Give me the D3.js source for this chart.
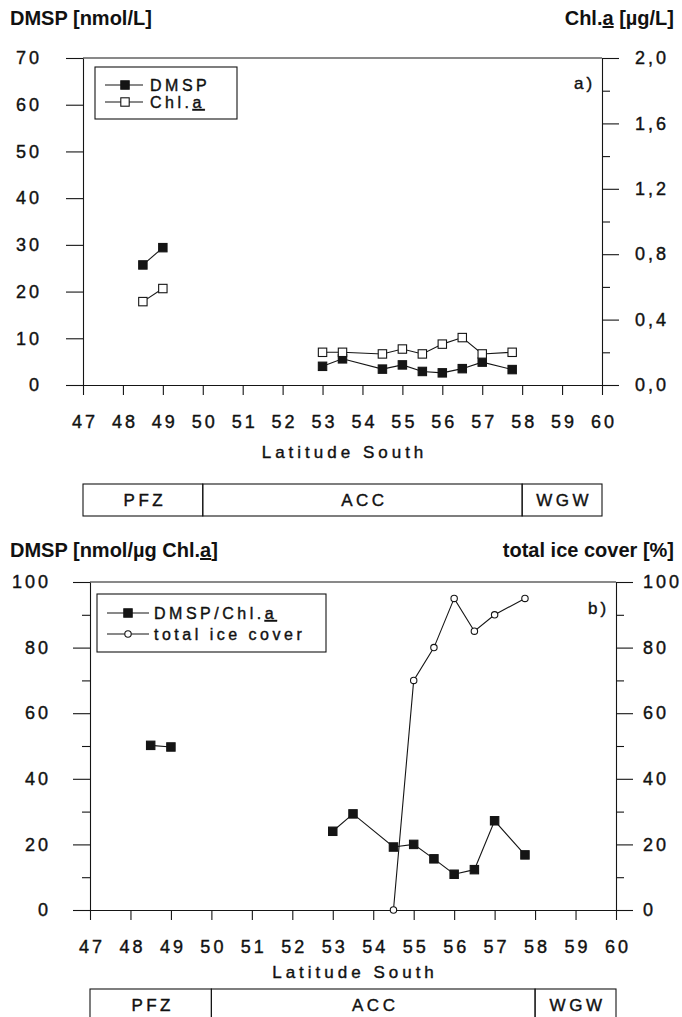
<!DOCTYPE html>
<html>
<head>
<meta charset="utf-8">
<script src="https://cdn.jsdelivr.net/npm/d3@7"></script>
<style>
    body { margin: 0; background: #fff; }
    svg text { font-family: "Liberation Sans", Arial, sans-serif; fill: #111; }
    svg .tx text, svg text.tx { stroke: #111; stroke-width: 0.4px; }
</style>
</head>
<body>
<div id="chart"></div>
<script>
// latitude axis + water mass zones
const latTicks = [47, 48, 49, 50, 51, 52, 53, 54, 55, 56, 57, 58, 59, 60]
const zoneNames = ['PFZ', 'ACC', 'WGW']
const zoneEdges = [47, 50, 58, 60]

// stations (leg 0 = north, leg 1 = south part of the transect)
const stationLat = [48.5, 49, 53, 53.5, 54.5, 55, 55.5, 56, 56.5, 57, 57.75]
const stationLeg = [0, 0, 1, 1, 1, 1, 1, 1, 1, 1, 1]

// panel a
const dmsp = [25.7, 29.4, 4.0, 5.6, 3.4, 4.3, 2.9, 2.6, 3.5, 4.9, 3.3]
const chla = [0.51, 0.59, 0.20, 0.20, 0.19, 0.22, 0.19, 0.25, 0.29, 0.19, 0.20]
const dmspTicks = [0, 10, 20, 30, 40, 50, 60, 70]
const chlTicks = [0, 0.4, 0.8, 1.2, 1.6, 2.0]
const chlMinor = [0.2, 0.6, 1.0, 1.4, 1.8]

// panel b
const dmspPerChl = [50.2, 49.7, 24.0, 29.3, 19.2, 20.0, 15.6, 10.9, 12.3, 27.2, 16.8]
const iceLat = [54.5, 55, 55.5, 56, 56.5, 57, 57.75]
const iceCover = [0, 70, 80, 95, 85, 90, 95]
const pctTicks = [0, 20, 40, 60, 80, 100]
const pctMinor = [10, 30, 50, 70, 90]

const w = 682
const h = 1017
const ink = '#151515'

const svg = d3.select('#chart')
    .append('svg')
    .attr('width', w)
    .attr('height', h)

function styleAxis(g, size, spacing) {
    g.attr('font-family', null).attr('font-size', null).attr('class', 'tx')
    g.selectAll('line').attr('stroke', ink).attr('stroke-width', 1.1)
    g.selectAll('path').attr('stroke', ink).attr('stroke-width', 1.1)
    g.selectAll('text')
        .style('font-size', size + 'px')
        .style('letter-spacing', spacing + 'px')
}

// text with an underlined "a" (Chl.a) when the second part is given
function textWithA(sel, parts) {
    sel.append('tspan').text(parts[0])
    if (parts[1] === null) return
    sel.append('tspan').attr('text-decoration', 'underline').text('a')
    sel.append('tspan').text(parts[1])
}

function drawPanel(p) {
    const g = svg.append('g')

    const x = d3.scaleLinear().domain([47, 60]).range([p.left, p.right])
    const yL = d3.scaleLinear().domain(p.leftDomain).range([p.bottom, p.top])
    const yR = d3.scaleLinear().domain(p.rightDomain).range([p.bottom, p.top])

    // titles
    const tl = g.append('text')
        .attr('x', 10).attr('y', p.titleY)
        .style('font-size', '20px').style('font-weight', 'bold')
    textWithA(tl, p.leftTitle)
    const tr = g.append('text')
        .attr('x', 674).attr('y', p.titleY)
        .attr('text-anchor', 'end')
        .style('font-size', '20px').style('font-weight', 'bold')
    textWithA(tr, p.rightTitle)

    // top frame line
    g.append('line')
        .attr('x1', p.left).attr('x2', p.right)
        .attr('y1', p.top).attr('y2', p.top)
        .attr('stroke', ink).attr('stroke-width', 1.1)

    // left axis
    g.append('g')
        .attr('transform', `translate(${p.left},0)`)
        .call(d3.axisLeft(yL).tickValues(p.leftTicks).tickSize(17).tickSizeOuter(0).tickPadding(p.leftPad))
        .call(a => styleAxis(a, 18, 3))
    if (p.leftMinor) {
        g.append('g')
            .attr('transform', `translate(${p.left},0)`)
            .call(d3.axisLeft(yL).tickValues(p.leftMinor).tickSize(8).tickFormat(''))
            .call(a => a.select('.domain').remove())
            .call(a => styleAxis(a, 18, 3))
    }

    // right axis
    g.append('g')
        .attr('transform', `translate(${p.right},0)`)
        .call(d3.axisRight(yR).tickValues(p.rightTicks).tickSize(17).tickSizeOuter(0)
            .tickPadding(p.rightPad).tickFormat(p.rightFormat))
        .call(a => styleAxis(a, 18, 3))
    g.append('g')
        .attr('transform', `translate(${p.right},0)`)
        .call(d3.axisRight(yR).tickValues(p.rightMinor).tickSize(8).tickFormat(''))
        .call(a => a.select('.domain').remove())
        .call(a => styleAxis(a, 18, 3))

    // latitude axis
    g.append('g')
        .attr('transform', `translate(0,${p.bottom})`)
        .call(d3.axisBottom(x).tickValues(latTicks).tickSize(10).tickSizeOuter(0).tickPadding(20))
        .call(a => styleAxis(a, 18, 3))
        .call(a => a.selectAll('text').attr('dx', 1.5))

    g.append('text')
        .attr('class', 'tx')
        .attr('x', (p.left + p.right) / 2 + 2).attr('y', p.latY)
        .attr('text-anchor', 'middle')
        .style('font-size', '17px').style('letter-spacing', '4px')
        .text('Latitude South')

    // zones
    const zones = g.append('g')
    zoneNames.forEach((z, i) => {
        zones.append('rect')
            .attr('x', x(zoneEdges[i])).attr('y', p.boxTop)
            .attr('width', x(zoneEdges[i + 1]) - x(zoneEdges[i])).attr('height', 32)
            .attr('fill', 'none').attr('stroke', ink).attr('stroke-width', 1.1)
        zones.append('text')
            .attr('class', 'tx')
            .attr('x', (x(zoneEdges[i]) + x(zoneEdges[i + 1])) / 2 + 2).attr('y', p.boxTop + 22)
            .attr('text-anchor', 'middle')
            .style('font-size', '17px').style('letter-spacing', '3.5px')
            .text(z)
    })

    // panel letter
    g.append('text')
        .attr('class', 'tx')
        .attr('x', p.letterX).attr('y', p.letterY)
        .style('font-size', '17px').style('letter-spacing', '3px')
        .text(p.letter)

    const line = d3.line().x(d => x(d[0])).y(d => d[1])

    // series
    p.series.forEach(s => {
        const pts = s.lat.map((la, i) => [la, s.y(s.values[i]), s.leg[i]])
        d3.groups(pts, d => d[2]).forEach(([, seg]) => {
            g.append('path')
                .attr('d', line(seg))
                .attr('fill', 'none').attr('stroke', ink).attr('stroke-width', 1.1)
        })
        drawMarkers(g.append('g'), pts.map(d => [x(d[0]), d[1]]), s.marker)
    })

    // legend
    const lg = g.append('g')
    lg.append('rect')
        .attr('x', p.legend.x).attr('y', p.legend.y)
        .attr('width', p.legend.w).attr('height', p.legend.h)
        .attr('fill', '#fff').attr('stroke', ink).attr('stroke-width', 1.1)
    p.series.forEach((s, i) => {
        const ly = p.legend.y + p.legend.row0 + i * p.legend.step
        lg.append('line')
            .attr('x1', p.legend.x + 10).attr('x2', p.legend.x + p.legend.lineW)
            .attr('y1', ly).attr('y2', ly)
            .attr('stroke', ink).attr('stroke-width', 1.1)
        drawMarkers(lg.append('g'), [[p.legend.x + p.legend.markX, ly]], s.marker)
        const t = lg.append('text')
            .attr('class', 'tx')
            .attr('x', p.legend.x + p.legend.textX).attr('y', ly + 6)
            .style('font-size', '16px').style('letter-spacing', '3.5px')
        textWithA(t, s.name)
    })
}

function drawMarkers(g, pts, type) {
    if (type === 'circle') {
        g.selectAll('circle').data(pts).enter().append('circle')
            .attr('cx', d => d[0]).attr('cy', d => d[1]).attr('r', 3.2)
            .attr('fill', '#fff').attr('stroke', ink).attr('stroke-width', 1.1)
    } else {
        g.selectAll('rect').data(pts).enter().append('rect')
            .attr('x', d => d[0] - 4.2).attr('y', d => d[1] - 4.2)
            .attr('width', 8.4).attr('height', 8.4)
            .attr('fill', type === 'filled' ? ink : '#fff')
            .attr('stroke', ink).attr('stroke-width', 1.1)
    }
}

const comma = d => d.toFixed(1).replace('.', ',')

// panel a
const yA = d3.scaleLinear().domain([0, 70]).range([385, 58])
const yAc = d3.scaleLinear().domain([0, 2]).range([385, 58])
drawPanel({
    left: 83, right: 602, top: 58, bottom: 385,
    leftDomain: [0, 70], rightDomain: [0, 2],
    leftTicks: dmspTicks, leftMinor: null, leftPad: 24,
    rightTicks: chlTicks, rightMinor: chlMinor, rightPad: 16, rightFormat: comma,
    titleY: 25, leftTitle: ['DMSP [nmol/L]', null], rightTitle: ['Chl.', ' [µg/L]'],
    latY: 458, boxTop: 484,
    letter: 'a)', letterX: 574, letterY: 89,
    legend: { x: 95, y: 67, w: 142, h: 52, row0: 18, step: 17, lineW: 48, markX: 30, textX: 55 },
    series: [
        { name: ['DMSP', null], lat: stationLat, values: dmsp, leg: stationLeg, y: yA, marker: 'filled' },
        { name: ['Chl.', ''], lat: stationLat, values: chla, leg: stationLeg, y: yAc, marker: 'open' }
    ]
})

// panel b
const yB = d3.scaleLinear().domain([0, 100]).range([910, 582])
drawPanel({
    left: 90, right: 616, top: 582, bottom: 910,
    leftDomain: [0, 100], rightDomain: [0, 100],
    leftTicks: pctTicks, leftMinor: pctMinor, leftPad: 22,
    rightTicks: pctTicks, rightMinor: pctMinor, rightPad: 10, rightFormat: d3.format('d'),
    titleY: 557, leftTitle: ['DMSP [nmol/µg Chl.', ']'], rightTitle: ['total ice cover [%]', null],
    latY: 978, boxTop: 989,
    letter: 'b)', letterX: 588, letterY: 614,
    legend: { x: 97, y: 594, w: 229, h: 58, row0: 19, step: 21, lineW: 52, markX: 31, textX: 57 },
    series: [
        { name: ['DMSP/Chl.', ''], lat: stationLat, values: dmspPerChl, leg: stationLeg, y: yB, marker: 'filled' },
        { name: ['total ice cover', null], lat: iceLat, values: iceCover, leg: iceLat.map(() => 0), y: yB, marker: 'circle' }
    ]
})
</script>
</body>
</html>
